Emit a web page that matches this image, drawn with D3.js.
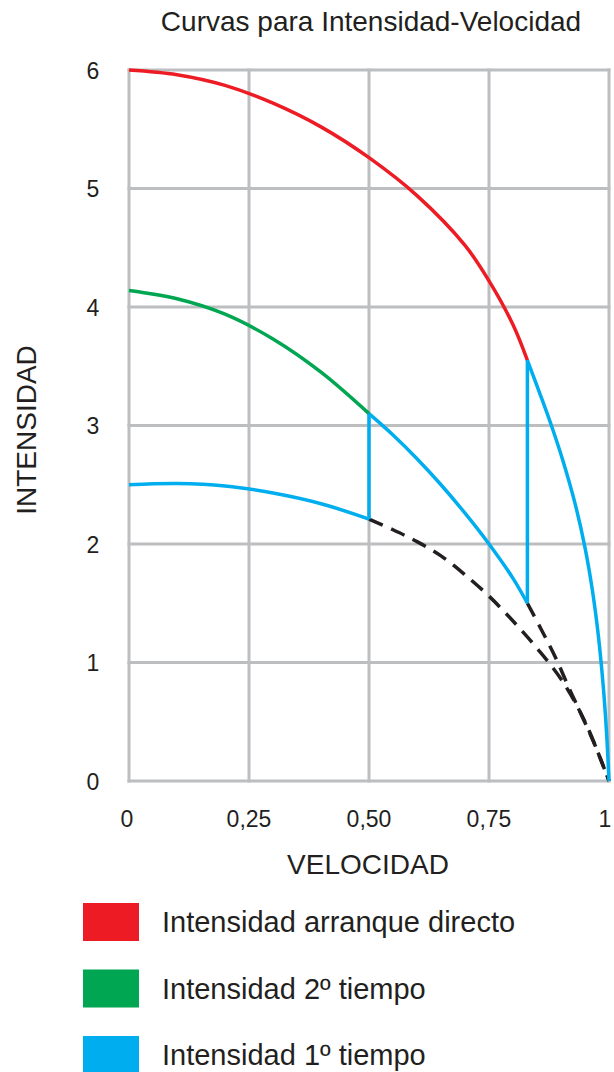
<!DOCTYPE html>
<html><head><meta charset="utf-8">
<script src="https://cdn.jsdelivr.net/npm/d3@7"></script>
<style>html,body{margin:0;padding:0;background:#fff;}svg{display:block;font-family:"Liberation Sans",Arial,sans-serif;}</style>
</head><body>
<svg id="c" width="614" height="1072"></svg>
<script>
const title = "Curvas para Intensidad-Velocidad";
const xLabel = "VELOCIDAD";
const yLabel = "INTENSIDAD";
const xTicks = [0, 0.25, 0.5, 0.75, 1];
const xTickLabels = ["0", "0,25", "0,50", "0,75", "1"];
const yTicks = [0, 1, 2, 3, 4, 5, 6];
const legendLabels = ["Intensidad arranque directo", "Intensidad 2º tiempo", "Intensidad 1º tiempo"];
const legendColors = ["#ed1c24", "#00a651", "#00aeef"];

const redCurve = [[0,6.0],[0.1,5.96],[0.2,5.87],[0.3,5.72],[0.4,5.52],[0.5,5.26],[0.6,4.94],[0.7,4.52],[0.75,4.22],[0.8,3.85],[0.83,3.55]];
const greenCurve = [[0,4.14],[0.1,4.07],[0.2,3.94],[0.3,3.73],[0.4,3.45],[0.5,3.1]];
const blueLow = [[0,2.5],[0.1,2.51],[0.2,2.49],[0.3,2.43],[0.4,2.34],[0.5,2.21]];
const blueStep1 = [[0.5,2.21],[0.5,3.1]];
const blueMid = [[0.5,3.1],[0.55,2.92],[0.6,2.72],[0.65,2.5],[0.7,2.26],[0.75,2.0],[0.8,1.71],[0.83,1.5]];
const blueStep2 = [[0.83,1.5],[0.83,3.55]];
const blueHigh = [[0.83,3.55],[0.855,3.28],[0.88,3.0],[0.905,2.69],[0.93,2.33],[0.95,1.97],[0.965,1.62],[0.978,1.22],[0.988,0.8],[0.995,0.4],[1,0]];
const dashA = [[0.5,2.21],[0.55,2.12],[0.6,2.02],[0.65,1.9],[0.7,1.74],[0.75,1.56],[0.8,1.35],[0.85,1.12],[0.9,0.86],[0.95,0.5],[1,0]];
const dashB = [[0.83,1.5],[0.86,1.27],[0.89,1.03],[0.915,0.8],[0.94,0.58],[0.97,0.31],[1,0]];

const svg = d3.select("#c");
const x = d3.scaleLinear().domain([0,1]).range([129,609]);
const y = d3.scaleLinear().domain([0,6]).range([781,70]);
const txt = "#231f20", grid = "#bcbec0";

// grid
svg.append("g").selectAll("line").data(xTicks).join("line")
  .attr("x1",d=>x(d)).attr("x2",d=>x(d)).attr("y1",y(0)+1.5).attr("y2",y(6)-1.5)
  .attr("stroke",grid).attr("stroke-width",3);
svg.append("g").selectAll("line").data(yTicks).join("line")
  .attr("y1",d=>y(d)).attr("y2",d=>y(d)).attr("x1",x(0)-1.5).attr("x2",x(1)+1.5)
  .attr("stroke",grid).attr("stroke-width",3);

// axis tick labels
svg.append("g").selectAll("text").data(yTicks).join("text")
  .attr("x",93).attr("y",d=>y(d)+8.5).attr("text-anchor","middle")
  .attr("font-size",23).attr("fill",txt).text(d=>d);
svg.append("g").selectAll("text").data(xTicks).join("text")
  .attr("x",(d,i)=>x(d)-(i===0?2:(i===xTicks.length-1?4:0))).attr("y",827).attr("text-anchor","middle")
  .attr("font-size",23).attr("fill",txt).text((d,i)=>xTickLabels[i]);

// titles
svg.append("text").attr("x",371).attr("y",31).attr("text-anchor","middle")
  .attr("font-size",28).attr("fill",txt).text(title);
svg.append("text").attr("x",368).attr("y",874).attr("text-anchor","middle")
  .attr("font-size",28).attr("fill",txt).text(xLabel);
svg.append("text").attr("transform","translate(36,430) rotate(-90)").attr("text-anchor","middle")
  .attr("font-size",28).attr("fill",txt).text(yLabel);

// curves
const smooth = d3.line().x(d=>x(d[0])).y(d=>y(d[1])).curve(d3.curveCatmullRom.alpha(0.5));
const straight = d3.line().x(d=>x(d[0])).y(d=>y(d[1]));
const g = svg.append("g").attr("fill","none").attr("stroke-width",3.5);
g.append("path").attr("d",smooth(dashA)).attr("stroke",txt).attr("stroke-dasharray","15,9");
g.append("path").attr("d",smooth(dashB)).attr("stroke",txt).attr("stroke-dasharray","15,9");
g.append("path").attr("d",smooth(redCurve)).attr("stroke",legendColors[0]);
g.append("path").attr("d",smooth(greenCurve)).attr("stroke",legendColors[1]);
[blueLow, blueMid, blueHigh].forEach(s=>g.append("path").attr("d",smooth(s)).attr("stroke",legendColors[2]));
[blueStep1, blueStep2].forEach(s=>g.append("path").attr("d",straight(s)).attr("stroke",legendColors[2]));

// legend
const lg = svg.append("g").selectAll("g").data(legendLabels).join("g")
  .attr("transform",(d,i)=>`translate(83,${903+i*66.5})`);
lg.append("rect").attr("width",56).attr("height",38).attr("fill",(d,i)=>legendColors[i]);
lg.append("text").attr("x",79).attr("y",29).attr("font-size",29).attr("fill",txt).text(d=>d);
</script>
</body></html>
